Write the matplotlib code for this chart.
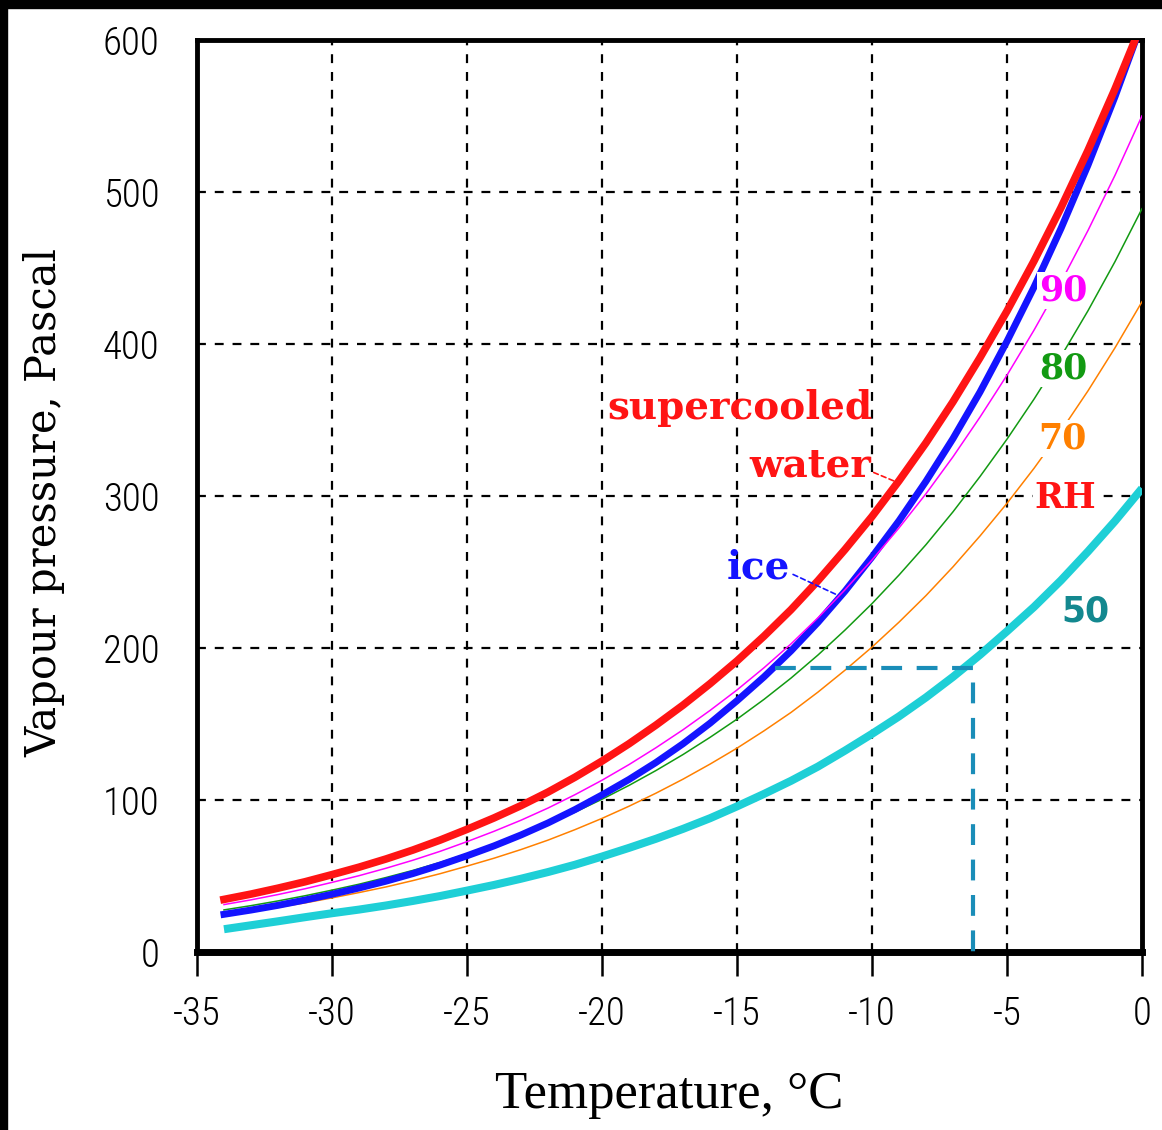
import matplotlib
matplotlib.use("Agg")
import matplotlib.pyplot as plt
from matplotlib.patches import Rectangle

# temperatures, deg C
temps = [-34, -33, -32, -31, -30, -29, -28, -27, -26, -25, -24, -23, -22, -21, -20,
         -19, -18, -17, -16, -15, -14, -13, -12, -11, -10, -9, -8, -7, -6, -5,
         -4, -3, -2, -1, 0]

# vapour pressure, Pa
water = [34.6, 38.1, 42.0, 46.2, 50.9, 55.8, 61.2, 67.1, 73.6, 80.7, 88.2, 96.3, 105.2, 115.0, 125.6,
         137.0, 149.3, 162.4, 176.5, 191.5, 207.8, 225.2, 244.3, 264.8, 286.5, 310.0, 335.0, 362.0, 391.0, 421.7,
         454.6, 489.7, 527.4, 567.8, 611.2]
ice = [24.8, 27.6, 30.7, 34.2, 38.0, 42.1, 46.6, 51.6, 57.2, 63.3, 69.8, 77.0, 84.9, 93.7, 103.3,
       113.5, 124.7, 137.0, 150.5, 165.3, 181.0, 198.1, 216.9, 237.4, 259.9, 283.7, 309.7, 337.8, 368.4, 401.8,
       437.4, 476.0, 517.7, 562.7, 611.2]
rh90 = [31.2, 34.3, 37.8, 41.6, 45.8, 50.2, 55.1, 60.4, 66.2, 72.6, 79.4, 86.7, 94.7, 103.5, 113.0,
        123.3, 134.4, 146.2, 158.9, 172.4, 187.0, 202.7, 219.9, 238.3, 257.9, 279.0, 301.5, 325.8, 351.9, 379.5,
        409.1, 440.7, 474.7, 511.0, 550.1]
rh80 = [27.7, 30.5, 33.6, 37.0, 40.7, 44.6, 49.0, 53.7, 58.9, 64.6, 70.6, 77.0, 84.2, 92.0, 100.5,
        109.6, 119.4, 129.9, 141.2, 153.2, 166.2, 180.2, 195.4, 211.8, 229.2, 248.0, 268.0, 289.6, 312.8, 337.4,
        363.7, 391.8, 421.9, 454.2, 489.0]
rh70 = [24.2, 26.7, 29.4, 32.3, 35.6, 39.1, 42.8, 47.0, 51.5, 56.5, 61.7, 67.4, 73.6, 80.5, 87.9,
        95.9, 104.5, 113.7, 123.6, 134.1, 145.5, 157.6, 171.0, 185.4, 200.6, 217.0, 234.5, 253.4, 273.7, 295.2,
        318.2, 342.8, 369.2, 397.5, 427.8]
rh50 = [15.0, 17.6, 20.2, 22.9, 25.5, 27.9, 30.6, 33.6, 36.8, 40.4, 44.1, 48.2, 52.6, 57.4, 62.8,
        68.5, 74.5, 81.0, 88.0, 95.8, 104.0, 112.6, 122.0, 132.5, 143.5, 155.0, 167.5, 181.0, 195.5, 211.0,
        227.0, 244.5, 263.5, 283.5, 305.0]

# frost point example: air at -6.25 C, 50% RH
frost_t = [-13.6, -6.25, -6.25]
frost_p = [187, 187, 0]

x_ticks = [-35, -30, -25, -20, -15, -10, -5, 0]
x_ticklabels = ["-35", "-30", "-25", "-20", "-15", "-10", "-5", "0"]
y_ticks = [0, 100, 200, 300, 400, 500, 600]

W, H = 1162, 1130
fig = plt.figure(figsize=(W / 100, H / 100), dpi=100, facecolor="white")
# black strips along top and left edge
fig.add_artist(Rectangle((0, 1 - 8 / H), 1, 8 / H, transform=fig.transFigure,
                         color="black", zorder=0))
fig.add_artist(Rectangle((0, 0), 7 / W, 1, transform=fig.transFigure,
                         color="black", zorder=0))

ax = fig.add_axes([197 / W, 178 / H, 945 / W, 912 / H])
ax.set_xlim(-35, 0)
ax.set_ylim(0, 600)

ax.grid(True, color="black", linestyle=(0, (4, 4)), linewidth=1.6, zorder=1)
ax.set_axisbelow(True)

kw = dict(solid_joinstyle="round")
ax.plot(temps, rh50, color="#1ecfd6", lw=5.8, solid_capstyle="butt", zorder=3, **kw)
ax.plot(temps, rh70, color="#ff8000", lw=1.1, zorder=3, **kw)
ax.plot(temps, rh80, color="#129a12", lw=1.1, zorder=3, **kw)
ax.plot(temps, ice, color="#1414ff", lw=5.0, zorder=4, **kw)
ax.plot(temps, rh90, color="#ff00ff", lw=1.1, zorder=5, **kw)
ax.plot(temps, water, color="#ff1414", lw=5.5, zorder=6, **kw)
ax.plot(frost_t, frost_p, color="#1a8db8", lw=3.0, linestyle=(0, (5, 3.5)), zorder=5)

serif = "DejaVu Serif"
ax.text(-14.9, 358, "supercooled", color="#ff1414", fontsize=28, family=serif,
        fontweight="bold", ha="center", va="center", zorder=8)
ax.annotate("water", xy=(-9.07, 309), xytext=(-12.3, 320), color="#ff1414", fontsize=28,
            family=serif, fontweight="bold", ha="center", va="center", zorder=8,
            arrowprops=dict(arrowstyle="-", color="#ff1414", lw=1.2, linestyle=(0, (3, 2)),
                            shrinkA=0, shrinkB=0, relpos=(1.0, 0.35)))
ax.annotate("ice", xy=(-11.3, 235), xytext=(-14.2, 253), color="#1414ff", fontsize=28,
            family=serif, fontweight="bold", ha="center", va="center", zorder=8,
            arrowprops=dict(arrowstyle="-", color="#1414ff", lw=1.2, linestyle=(0, (3, 2)),
                            shrinkA=0, shrinkB=0, relpos=(1.0, 0.35)))

box = dict(facecolor="white", edgecolor="none", pad=1)
ax.text(-2.93, 435, "90", color="#ff00ff", fontsize=25, family=serif, fontweight="bold",
        ha="center", va="center", bbox=box, zorder=8)
ax.text(-2.93, 384, "80", color="#129a12", fontsize=25, family=serif, fontweight="bold",
        ha="center", va="center", bbox=box, zorder=8)
ax.text(-2.93, 338, "70", color="#ff8000", fontsize=25, family=serif, fontweight="bold",
        ha="center", va="center", bbox=box, zorder=8)
ax.text(-2.85, 299, "RH", color="#ff1414", fontsize=25, family=serif, fontweight="bold",
        ha="center", va="center", bbox=box, zorder=8)
ax.text(-2.1, 224, "50", color="#13888f", fontsize=25, family="DejaVu Sans",
        fontweight="bold", ha="center", va="center", zorder=8)

for side in ["left", "top", "right"]:
    ax.spines[side].set_linewidth(3.5)
ax.spines["bottom"].set_linewidth(5)

tick_font = ["Roboto Condensed", "Liberation Sans Narrow", "DejaVu Sans"]
ax.set_xticks(x_ticks)
ax.set_xticklabels(x_ticklabels, family=tick_font, fontsize=28, fontstretch="condensed",
                   fontweight="light")
ax.set_yticks(y_ticks)
ax.set_yticklabels([str(v) for v in y_ticks], family=tick_font, fontsize=28,
                   fontstretch="condensed", fontweight="light")
ax.tick_params(axis="x", direction="out", length=17, width=1.8, pad=14)
ax.tick_params(axis="y", length=0, pad=27)

ax.set_xlabel("Temperature, °C", family="Liberation Serif", fontsize=38)
ax.xaxis.set_label_coords(0.5, -0.157)
ax.xaxis.label.set_va("center")
ax.set_ylabel("Vapour pressure, Pascal", family=serif, fontsize=30)
ax.yaxis.set_label_coords(-0.161, 0.493)
ax.yaxis.label.set_va("center")

fig.savefig("out.png", dpi=100, facecolor="white")
